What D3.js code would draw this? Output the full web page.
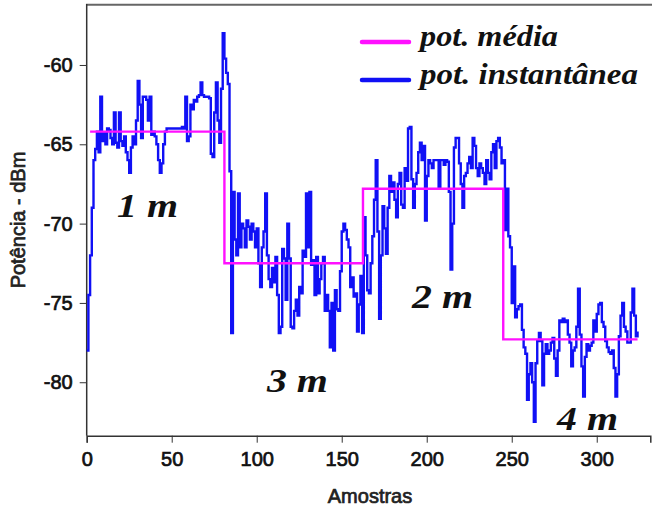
<!DOCTYPE html>
<html>
<head>
<meta charset="utf-8">
<script src="https://cdn.jsdelivr.net/npm/d3@7"></script>
<style>
  body { margin: 0; background: #fff; }
  svg { display: block; }
</style>
</head>
<body>
<svg id="chart" width="652" height="513"></svg>
<script>
// instantaneous power, one value per sample (dBm)
const instPower = [
  -78, -74.5, -72, -69, -66, -65.3, -64.2, -65.5, -62, -64.8,
  -64.3, -65, -64, -64.1, -64.6, -65, -63, -64.9, -65.2, -63,
  -64.8, -65.1, -64.5, -65.5, -66, -66.8, -65.2, -64.5, -65, -63.5,
  -61, -62.5, -64.6, -62, -62, -62.2, -63.5, -62, -64.4, -64.2,
  -64.5, -65, -66, -66.8, -66.2, -65, -64.2, -64, -64, -64,
  -64, -64, -64, -64, -64, -64, -63.9, -64, -62, -64.8,
  -64.5, -62.5, -62.8, -62.2, -62.3, -62, -61.9, -61.1, -61.9, -62,
  -62, -62, -62.1, -65.6, -65.8, -63, -61.1, -63.5, -64.9, -61.5,
  -58, -59.6, -60.5, -61.2, -66.7, -76.9, -68, -71, -72, -68.1,
  -71.5, -70, -70.3, -71.5, -69.8, -70.2, -71, -70, -70.5, -71.5,
  -70.3, -72.5, -74, -71.5, -70.5, -68.1, -72, -73.5, -74, -72.8,
  -73.7, -72.1, -74.5, -76.9, -76.5, -71.6, -72.2, -74.8, -70, -72.2,
  -76.5, -76.6, -75.5, -74.8, -75.8, -74, -74.4, -71.7, -72.1, -68.1,
  -71.5, -68, -72.6, -72.3, -74.5, -72.1, -74.4, -73.5, -72.5, -72.1,
  -75.5, -74.5, -75.5, -77.8, -75, -78, -74.2, -75.4, -75.5, -73,
  -70.5, -70, -70.4, -71, -71.5, -74, -73.4, -74.6, -74.4, -76.8,
  -75.1, -73.3, -76.9, -69.6, -72, -74.2, -74.4, -72.5, -70.8, -68.5,
  -66, -70.5, -76, -72, -68.9, -70.3, -71.9, -69, -67, -68,
  -67.4, -68.5, -69.6, -67.5, -66.8, -68.8, -69, -66.5, -67.3, -64,
  -63.9, -67.2, -69, -67.5, -66.8, -65.5, -64.9, -66, -65.1, -69.8,
  -67, -66, -66.2, -66.5, -66, -66, -66, -67.8, -66, -66,
  -66.3, -66, -66.1, -68, -72.9, -70, -65.2, -64.6, -64.6, -66.2,
  -67.5, -69, -67, -66.8, -66.2, -65.8, -66.5, -64.6, -65.1, -66.5,
  -67, -66.2, -66.5, -66.8, -67.5, -66, -66.8, -67.2, -65.5, -65,
  -66.5, -64.8, -64.6, -65.2, -66.2, -66, -70.4, -67.8, -70.8, -71.5,
  -75, -72.7, -75.9, -75.4, -75.2, -75.1, -76.7, -77.8, -78.2, -81.1,
  -79.5, -78.8, -80, -82.5, -78.8, -77.4, -76.9, -77.4, -80.2, -78.2,
  -77.6, -78.2, -78, -77.5, -77.2, -78.5, -79.6, -78, -76.1, -76.2,
  -76, -76.2, -76.1, -77, -77.5, -79, -78, -77.8, -76.5, -74.1,
  -77, -79, -80.9, -78.4, -77.6, -78, -77.7, -77.5, -76.1, -76.8,
  -75.7, -75.1, -75, -76.2, -76.5, -77.4, -77.8, -78.1, -78.2, -78,
  -79.1, -80.9, -79.5, -77.1, -75.8, -75, -76.5, -76.8, -77.5, -77.5,
  -75.6, -74.1, -75.8, -77.1, -76.8
];

// mean power per distance block
const meanStart = [2, 81, 162.5, 245];
const meanEnd = [81, 162.5, 245, 324];
const meanPower = [-64.2, -72.5, -67.8, -77.3];

const xTicks = [0, 50, 100, 150, 200, 250, 300];
const yTicks = [-80, -75, -70, -65, -60];

const legendLabels = ["pot. média", "pot. instantânea"];
const distances = [
  {label: "1 m", x: 17.8, y: -69.6},
  {label: "3 m", x: 106, y: -80.6},
  {label: "2 m", x: 191.4, y: -75.3},
  {label: "4 m", x: 276.6, y: -83.0}
];

const svg = d3.select("#chart");

const x = d3.scaleLinear().domain([0, 331.5]).range([86.7, 650.3]);
const y = d3.scaleLinear().domain([-83.37, -56.2]).range([435.7, 4.7]);

const sans = "'Liberation Sans', Arial, sans-serif";
const serif = "'Liberation Serif', 'DejaVu Serif', serif";

// top frame line
svg.append("line")
  .attr("x1", 86).attr("x2", 652)
  .attr("y1", 4.7).attr("y2", 4.7)
  .attr("stroke", "#666").attr("stroke-width", 2);

// x axis: minor then major ticks
const gx = svg.append("g").attr("transform", `translate(0,${y.range()[0]})`);
gx.call(d3.axisBottom(x).tickValues(d3.range(0, 331, 10)).tickSize(4).tickFormat(""))
  .call(g => g.select(".domain").remove());
gx.call(d3.axisBottom(x).tickValues(xTicks).tickSize(7).tickPadding(9))
  .call(g => g.select(".domain").attr("stroke", "#333").attr("stroke-width", 1.5))
  .selectAll("text")
  .attr("font-family", sans)
  .attr("font-size", "20px")
  .attr("fill", "#111")
  .attr("stroke", "#111")
  .attr("stroke-width", 0.7);
gx.selectAll("line").attr("stroke", "#333");

// y axis
const gy = svg.append("g").attr("transform", `translate(${x.range()[0]},0)`);
gy.call(d3.axisLeft(y).tickValues(d3.range(-83, -56, 1)).tickSize(4).tickFormat(""))
  .call(g => g.select(".domain").remove());
gy.call(d3.axisLeft(y).tickValues(yTicks).tickSize(7).tickPadding(7).tickFormat(d => String(d)))
  .call(g => g.select(".domain").attr("stroke", "#333").attr("stroke-width", 1.5))
  .selectAll("text")
  .attr("font-family", sans)
  .attr("font-size", "20px")
  .attr("fill", "#111")
  .attr("stroke", "#111")
  .attr("stroke-width", 0.7);
gy.selectAll("line").attr("stroke", "#333");
gy.select(".domain").attr("d", `M0,${y.range()[0]}V4`);

// axis titles
svg.append("text")
  .attr("x", 370).attr("y", 503)
  .attr("text-anchor", "middle")
  .attr("font-family", sans)
  .attr("font-size", "20px")
  .attr("fill", "#222")
  .attr("stroke", "#222")
  .attr("stroke-width", 0.7)
  .text("Amostras");

svg.append("text")
  .attr("transform", "translate(25,220) rotate(-90)")
  .attr("text-anchor", "middle")
  .attr("font-family", sans)
  .attr("font-size", "20px")
  .attr("fill", "#222")
  .attr("stroke", "#222")
  .attr("stroke-width", 0.7)
  .text("Potência - dBm");

// instantaneous power
const line = d3.line()
  .x((d, i) => x(i))
  .y(d => y(d))
  .curve(d3.curveStepAfter);

svg.append("path")
  .datum(instPower)
  .attr("fill", "none")
  .attr("stroke", "#1010f5")
  .attr("stroke-width", 2.4)
  .attr("d", line);

// mean power steps
const meanPts = [];
meanPower.forEach((v, i) => {
  meanPts.push([meanStart[i], v]);
  meanPts.push([meanEnd[i], v]);
});
svg.append("path")
  .datum(meanPts)
  .attr("fill", "none")
  .attr("stroke", "#ff10ff")
  .attr("stroke-width", 2.4)
  .attr("d", d3.line().x(d => x(d[0])).y(d => y(d[1])));

// distance labels
svg.append("g")
  .selectAll("text")
  .data(distances)
  .join("text")
  .attr("x", d => x(d.x))
  .attr("y", d => y(d.y))
  .attr("font-family", serif)
  .attr("font-style", "italic")
  .attr("font-weight", "bold")
  .attr("font-size", "34px")
  .attr("textLength", 61)
  .attr("lengthAdjust", "spacingAndGlyphs")
  .attr("fill", "#111")
  .text(d => d.label);

// legend
const legendColors = ["#ff10ff", "#1010f5"];
const legendWidths = [138, 218];
const legend = svg.append("g");
legendLabels.forEach((lab, i) => {
  const ly = 42 + i * 38;
  legend.append("line")
    .attr("x1", 362).attr("x2", 409)
    .attr("y1", ly).attr("y2", ly)
    .attr("stroke", legendColors[i])
    .attr("stroke-width", 4.5)
    .attr("stroke-linecap", "round");
  legend.append("text")
    .attr("x", 420).attr("y", ly + 4)
    .attr("font-family", serif)
    .attr("font-style", "italic")
    .attr("font-weight", "bold")
    .attr("font-size", "29px")
    .attr("textLength", legendWidths[i])
    .attr("lengthAdjust", "spacingAndGlyphs")
    .attr("fill", "#111")
    .text(lab);
});
</script>
</body>
</html>
